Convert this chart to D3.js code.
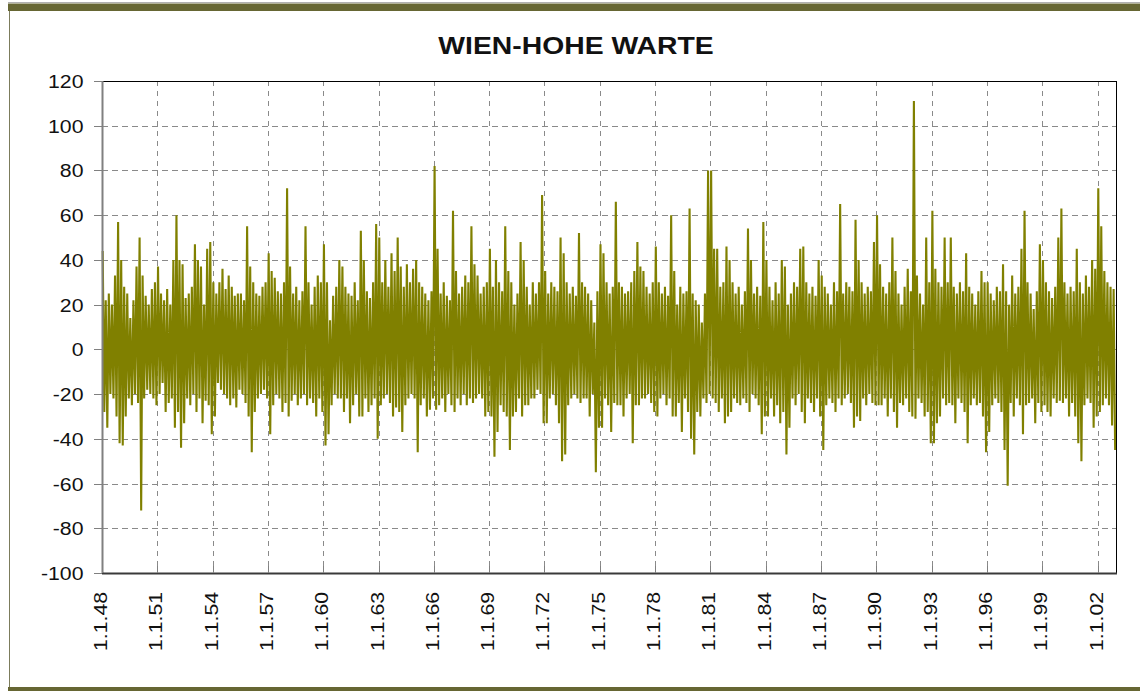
<!DOCTYPE html>
<html>
<head>
<meta charset="utf-8">
<script src="https://cdn.jsdelivr.net/npm/d3@7"></script>
<style>
  body { margin: 0; background: #fff; }
  svg { display: block; font-family: "Liberation Sans", Arial, sans-serif; }
</style>
</head>
<body>
<div id="chart"></div>
<script>
// chart data //
const chartTitle = "WIEN-HOHE WARTE";
const firstYear = 1948;
const yTicks = [-100, -80, -60, -40, -20, 0, 20, 40, 60, 80, 100, 120];
const tickYears = [1948, 1951, 1954, 1957, 1960, 1963, 1966, 1969, 1972, 1975, 1978, 1981, 1984, 1987, 1990, 1993, 1996, 1999, 2002];

// 12 readings a year, alternating upper and lower excursions
const peaks = [
  [44,-28,22,-35,25,-20,20,-22,33,-30,57,-42], // 1948
  [40,-43,28,-30,25,-22,14,-25,22,-20,37,-24],
  [50,-72,33,-22,24,-18,20,-20,27,-22,30,-25], // 1950
  [37,-20,25,-15,22,-28,27,-24,20,-22,40,-35],
  [60,-28,40,-44,38,-33,23,-22,25,-25,28,-20],
  [47,-28,40,-22,37,-33,20,-23,45,-25,48,-38],
  [30,-30,25,-15,30,-18,36,-20,27,-22,33,-25],
  [28,-22,24,-26,25,-18,25,-20,22,-24,55,-30],
  [37,-46,30,-28,25,-22,24,-20,28,-18,30,-22],
  [43,-38,35,-25,32,-20,26,-22,25,-28,30,-24],
  [72,-30,37,-23,25,-20,28,-25,22,-22,26,-20],
  [55,-25,30,-22,20,-24,28,-30,33,-22,30,-28],
  [47,-43,30,-38,13,-25,24,-20,28,-22,40,-22], // 1960
  [37,-28,28,-22,25,-33,24,-25,30,-20,22,-30],
  [53,-30,40,-22,26,-28,23,-25,30,-22,56,-40],
  [50,-25,30,-22,40,-20,28,-24,43,-30,35,-26],
  [50,-28,37,-37,28,-25,38,-22,30,-20,36,-22],
  [40,-46,30,-25,28,-22,25,-30,22,-27,26,-22],
  [82,-27,45,-25,25,-22,30,-28,24,-20,22,-25],
  [62,-28,35,-22,25,-25,28,-20,33,-25,30,-22],
  [55,-24,38,-22,33,-20,25,-22,28,-30,30,-28],
  [45,-30,28,-48,40,-37,30,-25,26,-28,55,-30],
  [35,-45,30,-30,20,-28,25,-22,48,-30,40,-25], // 1970
  [28,-25,20,-22,30,-22,25,-18,30,-20,69,-33],
  [35,-33,25,-22,30,-20,28,-25,26,-33,50,-50],
  [43,-47,30,-25,25,-22,28,-20,24,-22,52,-24],
  [30,-22,28,-22,25,-30,22,-20,12,-55,26,-35],
  [47,-35,43,-22,30,-25,25,-37,28,-24,66,-25],
  [30,-25,28,-30,25,-22,26,-20,30,-42,35,-25],
  [48,-25,37,-22,35,-22,28,-20,25,-24,30,-28],
  [46,-30,30,-22,25,-20,28,-25,24,-22,60,-30],
  [35,-30,20,-24,28,-37,25,-22,26,-28,63,-40],
  [25,-47,22,-28,20,-30,12,-22,25,-24,80,-20], // 1980
  [80,-22,45,-24,45,-28,28,-22,30,-33,46,-30],
  [40,-28,30,-22,25,-24,28,-25,20,-22,26,-24],
  [54,-28,40,-20,25,-22,28,-25,24,-38,57,-30],
  [40,-30,28,-22,22,-30,30,-25,25,-33,40,-28],
  [37,-47,20,-35,25,-22,30,-25,28,-20,45,-28],
  [46,-33,30,-22,25,-24,28,-28,24,-22,40,-30],
  [33,-45,28,-25,25,-22,20,-24,30,-28,26,-22],
  [65,-25,25,-22,30,-20,28,-24,26,-35,58,-30],
  [40,-32,30,-22,25,-25,28,-20,26,-24,48,-25],
  [60,-25,38,-25,28,-22,25,-30,30,-22,50,-28], // 1990
  [35,-35,25,-24,20,-25,28,-22,36,-28,26,-30],
  [111,-31,33,-22,25,-24,20,-30,50,-28,30,-42],
  [62,-42,36,-33,30,-30,28,-22,50,-25,30,-24],
  [50,-25,28,-33,25,-22,30,-24,26,-28,43,-42],
  [28,-25,25,-22,20,-25,26,-24,35,-30,30,-46],
  [30,-37,25,-25,22,-22,28,-24,26,-28,38,-45],
  [26,-61,20,-24,33,-30,25,-22,28,-25,45,-38],
  [62,-25,30,-24,25,-22,18,-33,26,-24,47,-28],
  [40,-25,30,-28,26,-30,23,-22,28,-24,50,-23],
  [63,-24,30,-22,25,-30,28,-24,26,-30,45,-42], // 2000
  [30,-50,25,-25,33,-22,28,-24,40,-35,36,-30],
  [72,-28,55,-25,35,-22,30,-25,28,-34,27,-45]
];

// SVG Setup //
var width = 1140, height = 691;
var plot = {left: 102, right: 1116, top: 81, bottom: 573};
var olive = "#808000", frameOlive = "#666633", gridGray = "#8a8a8a";

var svg = d3.select("#chart").append("svg")
  .attr("width", width)
  .attr("height", height);

// window frame around the chart
svg.append("line").attr("x1", 8).attr("x2", width).attr("y1", 2.5).attr("y2", 2.5)
  .attr("stroke", "#b0b0b0");
svg.append("rect").attr("x", 8).attr("y", 3.5).attr("width", width - 8).attr("height", 7.5)
  .attr("fill", frameOlive);
svg.append("line").attr("x1", 9.5).attr("x2", 9.5).attr("y1", 11).attr("y2", 687)
  .attr("stroke", "#7c7c5c");
svg.append("rect").attr("x", 8).attr("y", 687).attr("width", width - 8).attr("height", 4)
  .attr("fill", frameOlive);

var data = [];
peaks.forEach(function(row, yi) {
  row.forEach(function(v, m) {
    data.push({date: new Date(firstYear + yi, m, 15), value: v});
  });
});

var x = d3.scaleTime()
  .domain([new Date(1948, 0, 1), new Date(2003, 0, 1)])
  .range([plot.left, plot.right]);
var y = d3.scaleLinear()
  .domain([-100, 120])
  .range([plot.bottom, plot.top]);

// every label in the picture is drawn a bit wider than the font
function stretch(sel, k) {
  sel.each(function() {
    var w = this.getComputedTextLength();
    d3.select(this).attr("textLength", w * k).attr("lengthAdjust", "spacingAndGlyphs");
  });
}

// gridlines
svg.append("g").selectAll("line")
  .data(yTicks.filter(function(d) { return d > -100 && d < 120; }))
  .enter().append("line")
  .attr("x1", plot.left).attr("x2", plot.right)
  .attr("y1", function(d) { return Math.round(y(d)) + 0.5; })
  .attr("y2", function(d) { return Math.round(y(d)) + 0.5; })
  .attr("stroke", gridGray)
  .attr("stroke-dasharray", "6,4");

svg.append("g").selectAll("line")
  .data(tickYears.slice(1))
  .enter().append("line")
  .attr("x1", function(d) { return Math.round(x(new Date(d, 0, 1))) + 0.5; })
  .attr("x2", function(d) { return Math.round(x(new Date(d, 0, 1))) + 0.5; })
  .attr("y1", plot.top).attr("y2", plot.bottom)
  .attr("stroke", gridGray)
  .attr("stroke-dasharray", "5,5");

// the series
var line = d3.line()
  .x(function(d) { return x(d.date); })
  .y(function(d) { return y(d.value); });

svg.append("path")
  .datum(data)
  .attr("d", line)
  .attr("fill", "none")
  .attr("stroke", olive)
  .attr("stroke-width", 2.1)
  .attr("stroke-linejoin", "bevel");

// plot frame
svg.append("line").attr("x1", plot.left).attr("x2", plot.right).attr("y1", plot.top + 0.5).attr("y2", plot.top + 0.5)
  .attr("stroke", "#000");
svg.append("line").attr("x1", plot.right + 0.5).attr("x2", plot.right + 0.5).attr("y1", plot.top).attr("y2", plot.bottom)
  .attr("stroke", "#000");

// y axis
var yAxis = svg.append("g");
yAxis.append("line")
  .attr("x1", plot.left + 0.5).attr("x2", plot.left + 0.5)
  .attr("y1", plot.top).attr("y2", plot.bottom + 1)
  .attr("stroke", "#808080").attr("stroke-width", 2);
var yt = yAxis.selectAll("g").data(yTicks).enter().append("g")
  .attr("transform", function(d) { return "translate(0," + (Math.round(y(d)) + 0.5) + ")"; });
yt.append("line")
  .attr("x1", plot.left - 8).attr("x2", plot.left)
  .attr("stroke", "#808080");
yt.append("text")
  .attr("x", 83.5)
  .attr("y", 6.5)
  .attr("text-anchor", "end")
  .style("font-size", "18px")
  .attr("fill", "#111")
  .text(function(d) { return d; })
  .call(stretch, 1.18);

// x axis
var xAxis = svg.append("g");
xAxis.append("line")
  .attr("x1", plot.left).attr("x2", plot.right + 1)
  .attr("y1", plot.bottom + 0.5).attr("y2", plot.bottom + 0.5)
  .attr("stroke", "#3a3a3a").attr("stroke-width", 2);
var fmt = d3.timeFormat("1.1.%y");
var xt = xAxis.selectAll("g").data(tickYears).enter().append("g")
  .attr("transform", function(d) { return "translate(" + (Math.round(x(new Date(d, 0, 1))) + 0.5) + ",0)"; });
xt.append("line")
  .attr("y1", plot.bottom - 7).attr("y2", plot.bottom)
  .attr("stroke", "#808080");
xt.append("text")
  .attr("transform", "translate(4," + 592 + ") rotate(-90)")
  .attr("text-anchor", "end")
  .style("font-size", "18px")
  .attr("fill", "#111")
  .text(function(d) { return fmt(new Date(d, 0, 1)); })
  .call(stretch, 1.18);

// title
svg.append("text")
  .attr("x", 576)
  .attr("y", 54)
  .attr("text-anchor", "middle")
  .style("font-size", "24px")
  .style("font-weight", "bold")
  .attr("fill", "#111")
  .text(chartTitle)
  .call(stretch, 1.18);
</script>
</body>
</html>
